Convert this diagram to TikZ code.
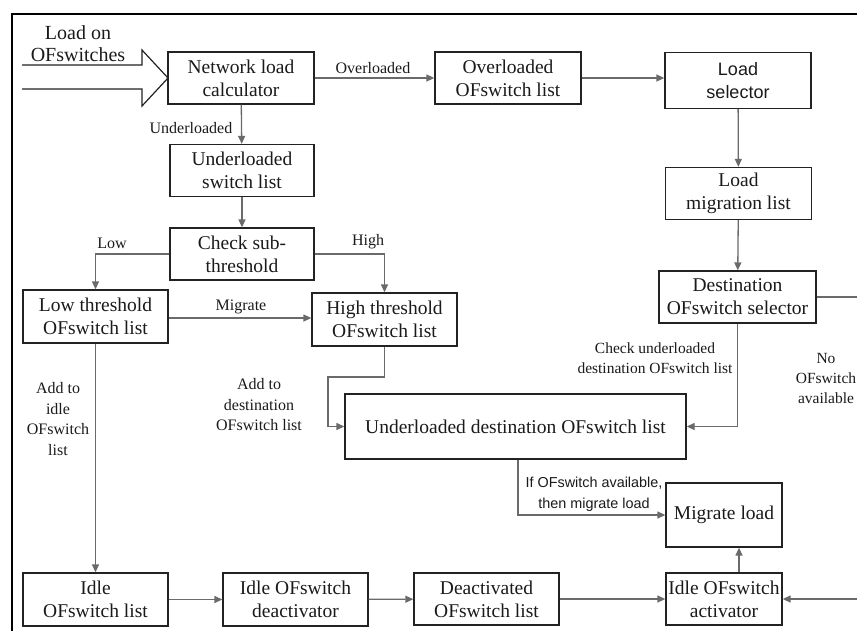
\documentclass[tikz,border=0pt]{standalone}
\usepackage{fontspec}
\setmainfont{Liberation Serif}
\newfontfamily\arialfont{Liberation Sans}
\usetikzlibrary{arrows.meta,calc}
\definecolor{lc}{HTML}{6A6A6A}
\definecolor{bc}{HTML}{222222}
\definecolor{tc}{HTML}{1A1A1A}
\tikzset{
  box/.style={draw=bc, line width=1.3pt, align=center, inner sep=0pt, text=tc,
    minimum width=#1, minimum height=52pt, font=\fontsize{19.5}{23}\selectfont},
  box/.default=146pt,
  conn/.style={draw=lc, line width=1.3pt, -{Triangle[length=8pt,width=7pt]}},
  plain/.style={draw=lc, line width=1.3pt},
  lbl/.style={align=center, inner sep=0pt, text=tc, font=\fontsize{16}{20.5}\selectfont},
  slbl/.style={align=center, inner sep=0pt, text=tc, font=\fontsize{15.5}{20}\selectfont},
}
\begin{document}
\begin{tikzpicture}[x=1pt, y=-1pt]
\useasboundingbox (0,0) rectangle (857,630);
\clip (0,0) rectangle (857,630);

% outer frame (top and left edges)
\draw[line width=1.3pt, black] (12,632) -- (12,14) -- (859,14);

% incoming load arrow
\draw[draw=bc, line width=1.2pt, line join=miter]
  (22,65) -- (142,65) -- (142,50) -- (168,78) -- (142,106) -- (142,89) -- (22,89);
\node[lbl, font=\fontsize{20}{22}\selectfont] (loadin) at (78,44) {Load on\\OFswitches};

% top row
\node[box] (nlc) at (241,78) {Network load\\calculator};
\node[box] (ovl) at (508,78) {Overloaded\\OFswitch list};
\node[box, minimum height=56pt, font=\arialfont\fontsize{18}{23}\selectfont] (lsel) at (738,80.5) {Load\\selector};

% right column
\node[box] (lmig) at (738.5,193.5) {Load\\migration list};
\node[box=157pt] (dsel) at (737.5,297) {Destination\\OFswitch selector};

% middle column
\node[box=144pt] (usl) at (242,170.5) {Underloaded\\switch list};
\node[box=144pt] (chk) at (242,254) {Check sub-\\threshold};
\node[box=145pt, minimum height=53pt] (lth) at (95.5,316.5) {Low threshold\\OFswitch list};
\node[box=145pt, minimum height=53pt] (hth) at (384.5,319.5) {High threshold\\OFswitch list};
\node[box=341pt, minimum height=65pt] (udl) at (515.5,426.5) {Underloaded destination OFswitch list};
\node[box=116pt, minimum height=64pt] (mig) at (724,515) {Migrate load};

% bottom row
\node[box=145pt, minimum height=53pt] (ilst) at (95.5,599.5) {Idle\\OFswitch list};
\node[box=145pt, minimum height=53pt] (ideact) at (295.5,599.5) {Idle OFswitch\\deactivator};
\node[box=145pt, minimum height=52pt] (deact) at (486.5,599) {Deactivated\\OFswitch list};
\node[box=116pt, minimum height=52pt] (act) at (724,599) {Idle OFswitch\\activator};

% helper points for bent connectors
\coordinate (bendA) at (328,377);
\coordinate (edgeA) at (859,297);
\coordinate (edgeB) at (859,599);

% connectors
\draw[conn] (nlc.east) -- (nlc.east -| ovl.west);
\draw[conn] (ovl.east) -- (ovl.east -| lsel.west);
\draw[conn] (lsel) -- (lmig);
\draw[conn] (lmig) -- (dsel);
\draw[conn] (nlc) -- (usl);
\draw[conn] (usl) -- (chk);
\draw[conn] (chk.west) -| (lth.north);
\draw[conn] (chk.east) -| (hth.north);
\draw[conn] (lth.east |- 0,318) -- (hth.west |- 0,318);
\draw[conn] (hth.south) |- (bendA) |- (udl.west);
\draw[conn] (dsel.south) |- (udl.east);
\draw[conn] ($(udl.south)+(2.5,0)$) |- (mig.west);
\draw[conn] ($(act.north)+(15,0)$) -- ($(mig.south)+(15,0)$);
\draw[conn] (lth) -- (ilst);
\draw[conn] (ilst) -- (ideact);
\draw[conn] (ideact) -- (deact);
\draw[conn] (deact) -- (act);
\draw[plain] (dsel.east) -- (edgeA);
\draw[conn] (edgeB) -- (act.east);

% connector labels
\node[lbl] (tover) at (373,68) {Overloaded};
\node[lbl] (tunder) at (191,128) {Underloaded};
\node[lbl] (tlow) at (112,243) {Low};
\node[lbl] (thigh) at (368,242) {High};
\node[lbl] (tmig) at (241,307) {Migrate};
\node[lbl] (tidle) at (58,419) {Add to\\idle\\OFswitch\\list};
\node[lbl] (tdest) at (259,405) {Add to\\destination\\OFswitch list};
\node[slbl] (tcheck) at (655,358) {Check underloaded\\destination OFswitch list};
\node[slbl] (tnone) at (826,378) {No\\OFswitch\\available};
\node[align=center, inner sep=0pt, text=tc, font=\arialfont\fontsize{14.4}{21}\selectfont] (tavail) at (594,494) {If OFswitch available,\\then migrate load};
\end{tikzpicture}
\end{document}
